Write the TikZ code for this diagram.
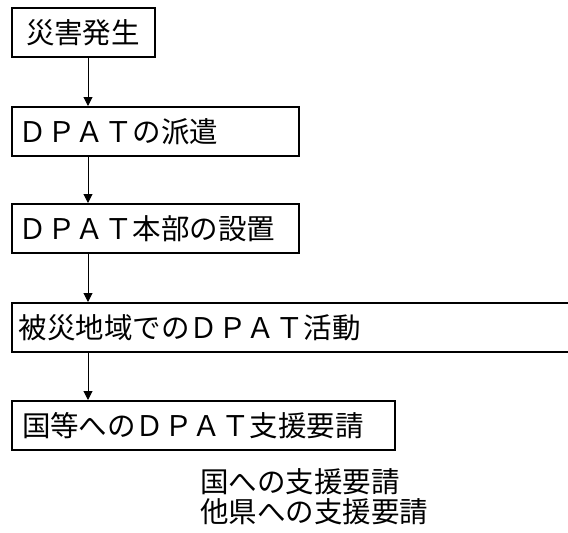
\documentclass[tikz,border=0pt]{standalone}
\usepackage{fontspec}
\setmainfont{Noto Sans CJK JP}
\usetikzlibrary{arrows.meta}

\begin{document}
\begin{tikzpicture}[
      x=1pt, y=-1pt,
      every node/.style={font=\fontsize{28.5}{34}\selectfont, inner sep=0pt},
      paso/.style={draw, line width=2pt, anchor=north west, minimum height=49pt, inner xsep=7pt, align=left},
      flecha/.style={line width=1pt, -{Triangle[width=9pt, length=9pt]}}
    ]
    \useasboundingbox (0,0) rectangle (568,533);
    \node[paso, text width=129pt] (desastre) at (11,7)   {\hspace*{7pt}災害発生};
    \node[paso, text width=273pt] (envio)    at (11,106) {ＤＰＡＴの派遣};
    \node[paso, text width=273pt] (sede)     at (11,203) {ＤＰＡＴ本部の設置};
    \node[paso, text width=560pt] (activ)    at (11,302) {被災地域でのＤＰＡＴ活動};
    \node[paso, text width=363pt, inner xsep=10pt] (apoyo) at (11,400) {国等へのＤＰＡＴ支援要請};
    \node[anchor=west] (pais)  at (200,482) {国への支援要請};
    \node[anchor=west] (otros) at (200,512) {他県への支援要請};
    \draw[flecha] ([xshift=77pt]desastre.south west) -- ([xshift=77pt]envio.north west);
    \draw[flecha] ([xshift=77pt]envio.south west) -- ([xshift=77pt]sede.north west);
    \draw[flecha] ([xshift=77pt]sede.south west) -- ([xshift=77pt]activ.north west);
    \draw[flecha] ([xshift=77pt]activ.south west) -- ([xshift=77pt]apoyo.north west);
  \end{tikzpicture}
\end{document}
